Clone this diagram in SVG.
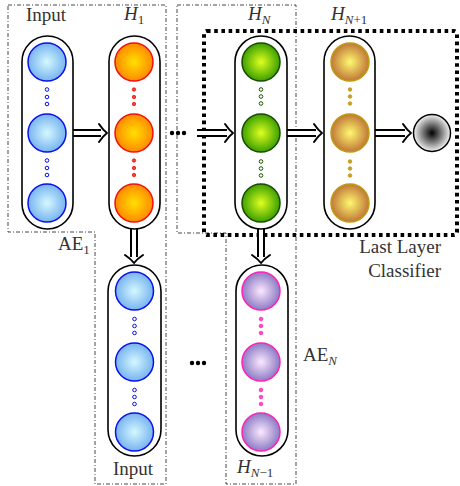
<svg xmlns="http://www.w3.org/2000/svg" width="460" height="486" viewBox="0 0 460 486">
<defs>
<radialGradient id="gBlue" cx="0.5" cy="0.5" r="0.5"><stop offset="0" stop-color="#d4f8ff"/><stop offset="1" stop-color="#78b4f0"/></radialGradient>
<radialGradient id="gOrange" cx="0.5" cy="0.5" r="0.5"><stop offset="0" stop-color="#ffe000"/><stop offset="1" stop-color="#ff8a00"/></radialGradient>
<radialGradient id="gGreen" cx="0.5" cy="0.5" r="0.5"><stop offset="0" stop-color="#e0ff20"/><stop offset="1" stop-color="#3ca000"/></radialGradient>
<radialGradient id="gGold" cx="0.5" cy="0.5" r="0.5"><stop offset="0" stop-color="#fff870"/><stop offset="1" stop-color="#c07838"/></radialGradient>
<radialGradient id="gPurple" cx="0.5" cy="0.5" r="0.5"><stop offset="0" stop-color="#fce8ff"/><stop offset="1" stop-color="#8c7cc4"/></radialGradient>
<radialGradient id="gOut" cx="0.5" cy="0.5" r="0.5"><stop offset="0" stop-color="#000"/><stop offset="1" stop-color="#f4f4f4"/></radialGradient>
</defs>
<style>
.pill{fill:#fff;stroke:#000;stroke-width:1.6}
.n{stroke-width:1.5}
.blue{fill:url(#gBlue);stroke:#0a10e8}
.orange{fill:url(#gOrange);stroke:#f01010}
.green{fill:url(#gGreen);stroke:#1a4a00}
.gold{fill:url(#gGold);stroke:#c09a10}
.purple{fill:url(#gPurple);stroke:#ff20b8}
.dB{fill:#fff;stroke:#0a10e8;stroke-width:1}
.dR{fill:#f04040;stroke:#f01010;stroke-width:0.8}
.dG{fill:#fff;stroke:#1a5a00;stroke-width:1}
.dY{fill:#c8a030;stroke:#c09a10;stroke-width:0.8}
.dP{fill:#ff50c0;stroke:#ff20b8;stroke-width:0.8}
.dd{fill:none;stroke:#333;stroke-width:0.9;stroke-dasharray:4 2 1 2}
.dot{fill:none;stroke:#000;stroke-width:4;stroke-dasharray:3.6 3.6}
.sh{fill:none;stroke:#000;stroke-width:8}
.sw{fill:none;stroke:#fff;stroke-width:4}
.hd{fill:none;stroke:#000;stroke-width:2;stroke-linecap:round;stroke-linejoin:round}
text{font-family:"Liberation Serif","DejaVu Serif",serif;font-size:19px;fill:#333}
.it{font-style:italic}
.sub{font-size:13px}
.bd{fill:#000}
</style>

<g id="boxes">
<path class="dd" d="M8,5 H166 V484 H95 V232 H8 Z"/>
<path class="dd" d="M177,5 H296 V484 H226 V233 H177 Z"/>
<rect class="dot" x="204" y="31" width="253" height="204" rx="3"/>
</g>

<g id="connectors">
<path class="sh" d="M73,133 H101"/><path class="sw" d="M73,133 H104"/><path class="hd" d="M99,124 Q103,130 107,133 Q103,136 99,142"/>
<path class="sh" d="M197,133 H227"/><path class="sw" d="M197,133 H230"/><path class="hd" d="M225,124 Q229,130 233,133 Q229,136 225,142"/>
<path class="sh" d="M287,133 H316"/><path class="sw" d="M287,133 H319"/><path class="hd" d="M314,124 Q318,130 322,133 Q318,136 314,142"/>
<path class="sh" d="M375,133 H405"/><path class="sw" d="M375,133 H408"/><path class="hd" d="M403,124 Q407,130 411,133 Q407,136 403,142"/>
<path class="sh" d="M134,229 V257"/><path class="sw" d="M134,229 V260"/><path class="hd" d="M125,255 Q131,259 134,263 Q137,259 143,255"/>
<path class="sh" d="M261,229 V257"/><path class="sw" d="M261,229 V260"/><path class="hd" d="M252,255 Q258,259 261,263 Q264,259 270,255"/>
</g>

<g id="col-input">
<rect class="pill" x="22" y="36" width="51" height="193" rx="25.5"/>
<circle class="n blue" cx="47" cy="62" r="19"/>
<circle class="n blue" cx="47" cy="133" r="19"/>
<circle class="n blue" cx="47" cy="203" r="19"/>
<circle class="dB" cx="47" cy="89.5" r="1.8"/><circle class="dB" cx="47" cy="97" r="1.8"/><circle class="dB" cx="47" cy="104" r="1.8"/>
<circle class="dB" cx="47" cy="160.5" r="1.8"/><circle class="dB" cx="47" cy="168" r="1.8"/><circle class="dB" cx="47" cy="175" r="1.8"/>
<text x="46" y="21" text-anchor="middle">Input</text>
</g>

<g id="col-h1">
<rect class="pill" x="109" y="36" width="51" height="193" rx="25.5"/>
<circle class="n orange" cx="134" cy="62" r="19"/>
<circle class="n orange" cx="134" cy="133" r="19"/>
<circle class="n orange" cx="134" cy="203" r="19"/>
<circle class="dR" cx="134" cy="89.5" r="1.7"/><circle class="dR" cx="134" cy="97" r="1.7"/><circle class="dR" cx="134" cy="104" r="1.7"/>
<circle class="dR" cx="134" cy="160.5" r="1.7"/><circle class="dR" cx="134" cy="168" r="1.7"/><circle class="dR" cx="134" cy="175" r="1.7"/>
<text x="124" y="20"><tspan class="it">H</tspan><tspan class="sub" dy="4">1</tspan></text>
</g>

<g id="dots-top">
<circle class="bd" cx="172" cy="133" r="2.2"/><circle class="bd" cx="178" cy="133" r="2.2"/><circle class="bd" cx="184" cy="133" r="2.2"/>
</g>

<g id="col-hn">
<rect class="pill" x="235" y="36" width="52" height="193" rx="26"/>
<circle class="n green" cx="261" cy="62" r="19"/>
<circle class="n green" cx="261" cy="133" r="19"/>
<circle class="n green" cx="261" cy="203" r="19"/>
<circle class="dG" cx="261" cy="89.5" r="1.8"/><circle class="dG" cx="261" cy="96.5" r="1.8"/><circle class="dG" cx="261" cy="103.5" r="1.8"/>
<circle class="dG" cx="261" cy="161.5" r="1.8"/><circle class="dG" cx="261" cy="168.5" r="1.8"/><circle class="dG" cx="261" cy="175.5" r="1.8"/>
<text x="248" y="20"><tspan class="it">H</tspan><tspan class="sub it" dy="4">N</tspan></text>
</g>

<g id="col-hn1">
<rect class="pill" x="324" y="36" width="51" height="193" rx="25.5"/>
<circle class="n gold" cx="350" cy="62" r="19"/>
<circle class="n gold" cx="350" cy="133" r="19"/>
<circle class="n gold" cx="350" cy="203" r="19"/>
<circle class="dY" cx="350" cy="89.5" r="1.8"/><circle class="dY" cx="350" cy="96.5" r="1.8"/><circle class="dY" cx="350" cy="103.5" r="1.8"/>
<circle class="dY" cx="350" cy="161.5" r="1.8"/><circle class="dY" cx="350" cy="168.5" r="1.8"/><circle class="dY" cx="350" cy="175.5" r="1.8"/>
<text x="331" y="20"><tspan class="it">H</tspan><tspan class="sub" dy="4"><tspan class="it">N</tspan>+1</tspan></text>
</g>

<g id="output">
<circle class="n" cx="432" cy="133" r="18.5" fill="url(#gOut)" stroke="#000"/>
</g>

<g id="col-input2">
<rect class="pill" x="108" y="265" width="53" height="191" rx="26.5"/>
<circle class="n blue" cx="134.5" cy="291" r="19"/>
<circle class="n blue" cx="134.5" cy="362" r="19"/>
<circle class="n blue" cx="134.5" cy="432" r="19"/>
<circle class="dB" cx="134.5" cy="319" r="1.8"/><circle class="dB" cx="134.5" cy="326" r="1.8"/><circle class="dB" cx="134.5" cy="333" r="1.8"/>
<circle class="dB" cx="134.5" cy="390" r="1.8"/><circle class="dB" cx="134.5" cy="397" r="1.8"/><circle class="dB" cx="134.5" cy="404" r="1.8"/>
<text x="133" y="475" text-anchor="middle">Input</text>
</g>

<g id="dots-bottom">
<circle class="bd" cx="192" cy="363" r="2.2"/><circle class="bd" cx="198" cy="363" r="2.2"/><circle class="bd" cx="204" cy="363" r="2.2"/>
</g>

<g id="col-hn-1">
<rect class="pill" x="236" y="265" width="52" height="191" rx="26"/>
<circle class="n purple" cx="261" cy="291" r="19"/>
<circle class="n purple" cx="261" cy="362" r="19"/>
<circle class="n purple" cx="261" cy="432" r="19"/>
<circle class="dP" cx="261" cy="319" r="1.8"/><circle class="dP" cx="261" cy="326" r="1.8"/><circle class="dP" cx="261" cy="333" r="1.8"/>
<circle class="dP" cx="261" cy="390" r="1.8"/><circle class="dP" cx="261" cy="397" r="1.8"/><circle class="dP" cx="261" cy="404" r="1.8"/>
<text x="237" y="473"><tspan class="it">H</tspan><tspan class="sub" dy="4"><tspan class="it">N</tspan>−1</tspan></text>
</g>

<g id="labels">
<text x="58" y="250">AE<tspan class="sub" dy="4">1</tspan></text>
<text x="303" y="361">AE<tspan class="sub it" dy="4">N</tspan></text>
<text x="441" y="253" text-anchor="end">Last Layer</text>
<text x="441" y="277" text-anchor="end">Classifier</text>
</g>
</svg>
